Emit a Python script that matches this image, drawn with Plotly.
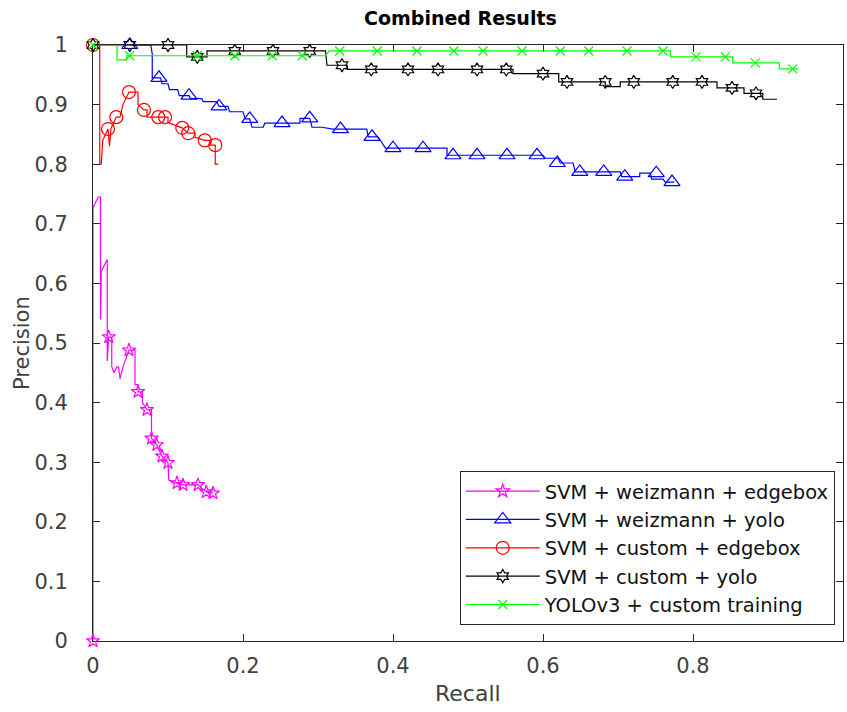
import plotly.graph_objects as go

# ---------------- data ----------------
names = ["SVM + weizmann + edgebox", "SVM + weizmann + yolo", "SVM + custom + edgebox",
         "SVM + custom + yolo", "YOLOv3 + custom training"]

# SVM + weizmann + edgebox (curve)
mag_rec = [0, 0, 0.007, 0.010, 0.010, 0.011, 0.019, 0.019, 0.021, 0.025, 0.025, 0.028, 0.032,
           0.034, 0.036, 0.040, 0.048, 0.056, 0.056, 0.060, 0.060, 0.066, 0.066, 0.072, 0.078,
           0.078, 0.085, 0.092, 0.100, 0.101, 0.112, 0.120, 0.140, 0.151, 0.160]
mag_prec = [0, 0.727, 0.745, 0.745, 0.54, 0.62, 0.64, 0.47, 0.51, 0.51, 0.46, 0.45, 0.46,
            0.46, 0.44, 0.46, 0.488, 0.488, 0.43, 0.43, 0.418, 0.418, 0.40, 0.388, 0.388,
            0.34, 0.329, 0.31, 0.299, 0.27, 0.265, 0.262, 0.262, 0.25, 0.248]
mag_mk_rec = [0, 0.021, 0.048, 0.060, 0.072, 0.078, 0.085, 0.092, 0.100, 0.112, 0.120, 0.140, 0.151, 0.160]
mag_mk_prec = [0, 0.51, 0.488, 0.418, 0.388, 0.34, 0.329, 0.31, 0.299, 0.265, 0.262, 0.262, 0.25, 0.248]

# SVM + weizmann + yolo
blu_rec = [0.049, 0.077, 0.079, 0.079, 0.090, 0.092, 0.100, 0.102, 0.113, 0.115, 0.128, 0.130,
           0.145, 0.147, 0.165, 0.168, 0.180, 0.182, 0.200, 0.203, 0.209, 0.212, 0.227, 0.229,
           0.276, 0.276, 0.289, 0.292, 0.305, 0.320, 0.365, 0.367, 0.380, 0.390, 0.472, 0.472,
           0.600, 0.603, 0.620, 0.623, 0.640, 0.643, 0.703, 0.705, 0.729, 0.729, 0.743, 0.745,
           0.760, 0.763, 0.775]
blu_prec = [1.0, 1.0, 0.985, 0.945, 0.945, 0.935, 0.935, 0.925, 0.925, 0.915, 0.915, 0.91,
            0.91, 0.905, 0.905, 0.897, 0.897, 0.888, 0.888, 0.876, 0.876, 0.862, 0.862, 0.869,
            0.869, 0.877, 0.877, 0.862, 0.862, 0.859, 0.859, 0.846, 0.846, 0.827, 0.827, 0.815,
            0.815, 0.81, 0.81, 0.802, 0.802, 0.787, 0.787, 0.779, 0.779, 0.785, 0.785, 0.775,
            0.775, 0.77, 0.77]
blu_mk_rec = [0.049, 0.088, 0.128, 0.168, 0.209, 0.252, 0.289, 0.330, 0.372, 0.400, 0.440,
              0.480, 0.512, 0.552, 0.592, 0.619, 0.649, 0.681, 0.709, 0.751, 0.772]
blu_mk_prec = [1.0, 0.945, 0.915, 0.897, 0.876, 0.869, 0.877, 0.859, 0.846, 0.827, 0.827,
               0.815, 0.815, 0.815, 0.815, 0.802, 0.787, 0.787, 0.779, 0.785, 0.77]

# SVM + custom + edgebox
red_rec = [0, 0.009, 0.009, 0.011, 0.013, 0.020, 0.022, 0.024, 0.031, 0.036, 0.040, 0.048,
           0.060, 0.060, 0.068, 0.072, 0.072, 0.100, 0.100, 0.119, 0.127, 0.136, 0.136, 0.149,
           0.157, 0.157, 0.163, 0.163, 0.167]
red_prec = [1.0, 1.0, 0.80, 0.80, 0.84, 0.859, 0.83, 0.86, 0.879, 0.879, 0.90, 0.921,
            0.921, 0.90, 0.891, 0.891, 0.879, 0.879, 0.87, 0.861, 0.852, 0.852, 0.845, 0.84,
            0.84, 0.832, 0.832, 0.80, 0.80]
red_mk_rec = [0, 0.020, 0.031, 0.048, 0.068, 0.087, 0.096, 0.119, 0.127, 0.149, 0.163]
red_mk_prec = [1.0, 0.859, 0.879, 0.921, 0.891, 0.879, 0.879, 0.861, 0.852, 0.84, 0.832]

# SVM + custom + yolo
blk_rec = [0, 0.125, 0.125, 0.152, 0.152, 0.310, 0.312, 0.339, 0.339, 0.560, 0.560, 0.621,
           0.621, 0.683, 0.683, 0.703, 0.703, 0.832, 0.832, 0.868, 0.868, 0.893, 0.893, 0.912]
blk_prec = [1.0, 1.0, 0.98, 0.98, 0.99, 0.99, 0.966, 0.966, 0.959, 0.959, 0.952, 0.952,
            0.938, 0.938, 0.93, 0.93, 0.938, 0.938, 0.928, 0.928, 0.919, 0.919, 0.909, 0.909]
blk_mk_rec = [0, 0.049, 0.100, 0.139, 0.189, 0.240, 0.289, 0.332, 0.371, 0.420, 0.460,
              0.512, 0.551, 0.600, 0.632, 0.683, 0.721, 0.773, 0.812, 0.852, 0.884]
blk_mk_prec = [1.0, 1.0, 1.0, 0.98, 0.99, 0.99, 0.99, 0.966, 0.959, 0.959, 0.959,
               0.959, 0.959, 0.952, 0.938, 0.938, 0.938, 0.938, 0.938, 0.928, 0.919]

# YOLOv3 + custom training
grn_rec = [0, 0.032, 0.032, 0.045, 0.045, 0.310, 0.315, 0.770, 0.770, 0.853, 0.853, 0.915,
           0.915, 0.940]
grn_prec = [1.0, 1.0, 0.975, 0.975, 0.982, 0.982, 0.99, 0.99, 0.98, 0.98, 0.97, 0.97,
            0.96, 0.96]
grn_mk_rec = [0, 0.049, 0.139, 0.189, 0.239, 0.279, 0.329, 0.379, 0.432, 0.481, 0.520,
              0.572, 0.623, 0.661, 0.712, 0.760, 0.804, 0.843, 0.883, 0.933]
grn_mk_prec = [1.0, 0.982, 0.982, 0.982, 0.982, 0.982, 0.99, 0.99, 0.99, 0.99, 0.99,
               0.99, 0.99, 0.99, 0.99, 0.99, 0.98, 0.98, 0.97, 0.96]

x_ticks = [0, 0.2, 0.4, 0.6, 0.8, 1]
x_tick_text = ["0", "0.2", "0.4", "0.6", "0.8", "1"]
y_ticks = [0, 0.1, 0.2, 0.3, 0.4, 0.5, 0.6, 0.7, 0.8, 0.9, 1]
y_tick_text = ["0", "0.1", "0.2", "0.3", "0.4", "0.5", "0.6", "0.7", "0.8", "0.9", "1"]

# ---------------- figure ----------------
series = [
    (names[0], mag_rec, mag_prec, mag_mk_rec, mag_mk_prec, "#FF00FF", "star-open", 10),
    (names[1], blu_rec, blu_prec, blu_mk_rec, blu_mk_prec, "#0000FF", "triangle-up-open", 14),
    (names[2], red_rec, red_prec, red_mk_rec, red_mk_prec, "#FF0000", "circle-open", 13),
    (names[3], blk_rec, blk_prec, blk_mk_rec, blk_mk_prec, "#000000", "hexagram-open", 10),
    (names[4], grn_rec, grn_prec, grn_mk_rec, grn_mk_prec, "#00FF00", "x-thin-open", 9),
]

fig = go.Figure()
for nm, xr, yr, mx, my, col, sym, sz in series:
    fig.add_trace(go.Scatter(x=xr, y=yr, mode="lines", line=dict(color=col, width=1.2),
                             legendgroup=nm, showlegend=False, hoverinfo="skip"))
    fig.add_trace(go.Scatter(x=mx, y=my, mode="markers", cliponaxis=False,
                             marker=dict(symbol=sym, size=sz, color=col, line=dict(color=col, width=1.2)),
                             legendgroup=nm, showlegend=False))
    fig.add_trace(go.Scatter(x=[None], y=[None], mode="lines+markers", name=nm,
                             line=dict(color=col, width=1.2),
                             marker=dict(symbol=sym, size=sz, color=col, line=dict(color=col, width=1.2)),
                             legendgroup=nm, showlegend=True))

axis_common = dict(showline=True, linecolor="#262626", linewidth=1, mirror="ticks",
                   ticks="inside", ticklen=7, tickcolor="#262626", tickwidth=1,
                   showgrid=False, zeroline=False, automargin=False, layer="below traces",
                   tickfont=dict(family="DejaVu Sans", size=21, color="#404040"))

fig.update_layout(
    width=847, height=712,
    margin=dict(l=93, r=4, t=45, b=71),
    paper_bgcolor="white", plot_bgcolor="white",
    xaxis=dict(range=[0, 1], tickvals=x_ticks, ticktext=x_tick_text, ticklabelstandoff=6, **axis_common),
    yaxis=dict(range=[0, 1], tickvals=y_ticks, ticktext=y_tick_text, ticklabelstandoff=20, **axis_common),
    showlegend=True,
    legend=dict(x=0.989, xanchor="right", y=0.027, yanchor="bottom",
                bordercolor="#262626", borderwidth=1, bgcolor="white",
                font=dict(family="DejaVu Sans", size=19.5, color="#111111"),
                tracegroupgap=0, itemwidth=74, entrywidth=318, entrywidthmode="pixels"),
    annotations=[
        dict(text="<b>Combined Results</b>", xref="paper", yref="paper", x=0.49, y=1.0,
             yanchor="middle", yshift=27, showarrow=False,
             font=dict(family="DejaVu Sans", size=19, color="black")),
        dict(text="Recall", xref="paper", yref="paper", x=0.5, y=0, yanchor="middle", yshift=-52,
             showarrow=False, font=dict(family="DejaVu Sans", size=22, color="#404040")),
        dict(text="Precision", xref="paper", yref="paper", x=0, y=0.5, xanchor="center",
             xshift=-71, textangle=-90,
             showarrow=False, font=dict(family="DejaVu Sans", size=21, color="#404040")),
    ],
)

fig.write_html("out.html", config={"displayModeBar": False},
               post_script="document.body.style.margin='0';document.body.style.overflow='hidden';")
